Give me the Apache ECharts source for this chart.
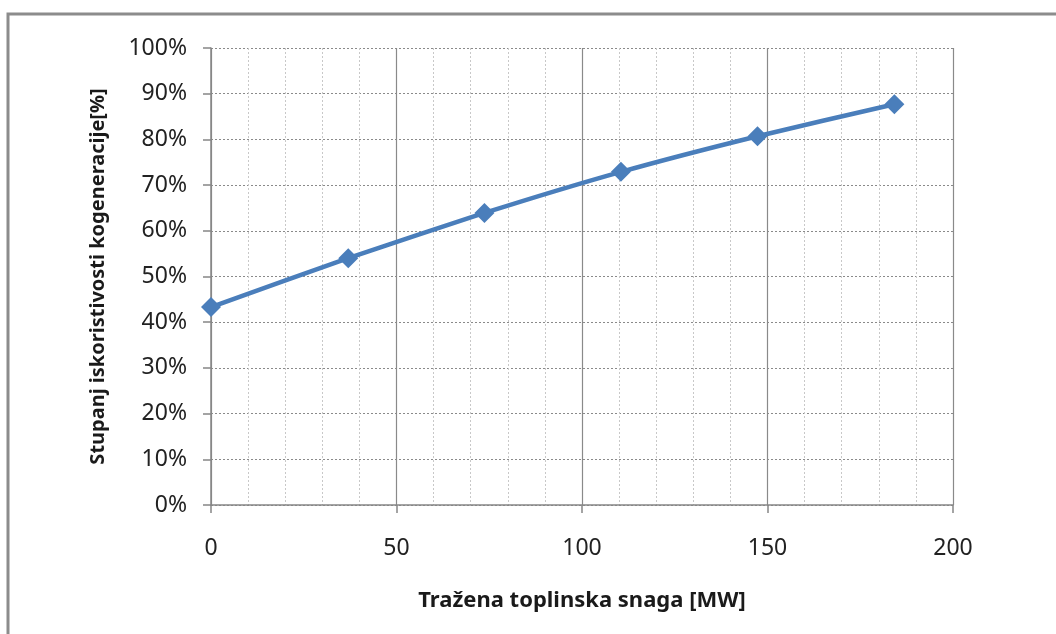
<!DOCTYPE html>
<html>
<head>
<meta charset="utf-8">
<script src="https://cdn.jsdelivr.net/npm/echarts@6/dist/echarts.min.js"></script>
<style>
html, body { margin: 0; padding: 0; background: #fff; }
#chart { width: 1056px; height: 634px; }
</style>
</head>
<body>
<div id="chart"></div>
<script>
// snaga [MW] i stupanj iskoristivosti [%]
var snaga = [0, 37, 73.7, 110.5, 147.3, 184.2];
var stupanj = [43.3, 54.0, 63.9, 72.9, 80.7, 87.7];
var xName = 'Tražena toplinska snaga [MW]';
var yName = 'Stupanj iskoristivosti kogeneracije[%]';

var tocke = snaga.map(function (x, i) { return [x, stupanj[i]]; });

var myChart = echarts.init(document.getElementById('chart'));
var font = '"Noto Sans", "DejaVu Sans", sans-serif';

var options = {
  animation: false,
  backgroundColor: '#fff',
  graphic: [{
    type: 'rect',
    shape: { x: 8, y: 14, width: 1100, height: 700 },
    style: { fill: 'none', stroke: '#8c8c8c', lineWidth: 3 },
    silent: true
  }],
  grid: { left: 211, right: 103, top: 48, bottom: 129 },
  xAxis: {
    type: 'value',
    min: 0, max: 200, interval: 50,
    name: xName,
    nameLocation: 'middle',
    nameGap: 85,
    nameTextStyle: { fontFamily: font, fontSize: 22, fontWeight: 'bold', color: '#1a1a1a' },
    axisLine: { show: true, onZero: false, lineStyle: { color: '#868686', width: 1.5 } },
    axisTick: { show: true, length: 8, lineStyle: { color: '#868686', width: 1.5 } },
    axisLabel: { margin: 32, fontFamily: font, fontSize: 23, color: '#222' },
    splitLine: { show: true, lineStyle: { color: '#8a8a8a', width: 1.2 } },
    minorTick: { show: false, splitNumber: 5 },
    minorSplitLine: { show: true, lineStyle: { color: '#c8c8c8', type: [2, 2], width: 1 } }
  },
  yAxis: {
    type: 'value',
    min: 0, max: 100, interval: 10,
    name: yName,
    nameLocation: 'middle',
    nameGap: 103,
    nameTextStyle: { fontFamily: font, fontSize: 20, fontWeight: 'bold', color: '#1a1a1a' },
    axisLine: { show: true, lineStyle: { color: '#868686', width: 1.5 } },
    axisTick: { show: true, length: 8, lineStyle: { color: '#868686', width: 1.5 } },
    axisLabel: { margin: 24, fontFamily: font, fontSize: 23, color: '#222', formatter: '{value}%' },
    splitLine: { show: true, lineStyle: { color: '#8a8a8a', type: [2, 2], width: 1 } }
  },
  series: [{
    type: 'line',
    data: tocke,
    smooth: 0.2,
    symbol: 'diamond',
    symbolSize: 20,
    lineStyle: { color: '#4a7ebb', width: 4.5 },
    itemStyle: { color: '#4a7ebb' },
    z: 5
  }]
};
myChart.setOption(options);
</script>
</body>
</html>
